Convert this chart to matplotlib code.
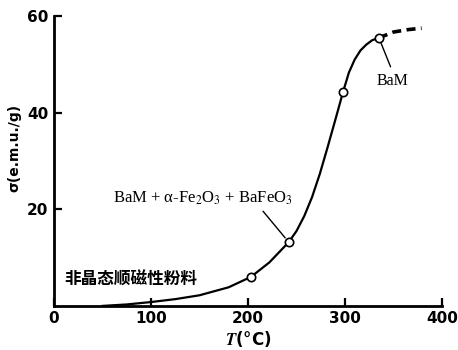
import matplotlib
matplotlib.use("Agg")
import matplotlib.pyplot as plt

plt.rcParams["mathtext.fontset"] = "stix"

# curve
T_curve = [50, 75, 100, 125, 150, 180, 203, 222, 242, 250, 258, 266, 274, 282, 290, 298, 304, 310, 316, 322, 328, 335]
s_curve = [0, 0.3, 0.8, 1.4, 2.2, 3.85, 6.0, 9.0, 13.2, 15.5, 18.6, 22.5, 27.3, 32.8, 38.5, 44.3, 48.3, 51.0, 52.9, 54.1, 55.0, 55.5]
T_dash = [335, 350, 365, 379]
s_dash = [55.5, 56.7, 57.2, 57.5]
T_pts = [203, 242, 298, 335]
s_pts = [6.0, 13.2, 44.3, 55.5]

xticks = [0, 100, 200, 300, 400]
yticks = [20, 40, 60]

fig = plt.figure(figsize=(4.58, 3.5), dpi=100)
ax = fig.add_axes([0.118, 0.126, 0.847, 0.828])

ax.plot(T_curve, s_curve, color="black", lw=1.6)
ax.plot(T_dash, s_dash, color="black", lw=2.6, dashes=(2.5, 1.5))
ax.plot(T_pts, s_pts, "o", ms=6, mfc="white", mec="black", mew=1.2, zorder=3)

ax.set_xlim(0, 400)
ax.set_ylim(0, 60)
for s in ["top", "right"]:
    ax.spines[s].set_visible(False)
for s in ["left", "bottom"]:
    ax.spines[s].set_linewidth(2)
ax.set_xticks(xticks)
ax.set_xticklabels([str(v) for v in xticks], fontsize=11, fontweight="bold")
ax.set_yticks(yticks)
ax.set_yticklabels([str(v) for v in yticks], fontsize=11, fontweight="bold")
ax.tick_params(direction="in", length=6, width=1.6, pad=4)

ax.set_xlabel(r"$\boldsymbol{T}$(°C)", fontsize=12, fontweight="bold", labelpad=2)
ax.set_ylabel("σ(e.m.u./g)", fontsize=10, fontweight="bold")
ax.yaxis.set_label_coords(-0.085, 0.545)

serif = "Liberation Serif"
# BaM label and its leader
ax.text(349.5, 46.6, "BaM", fontsize=11.5, family=serif, ha="center", va="center")
ax.annotate("", xy=(335, 55.5), xytext=(347, 49.5),
            arrowprops=dict(arrowstyle="-", color="black", lw=1, shrinkA=0, shrinkB=4))
# mixed-phase label and its leader
ax.text(153.6, 22.3, "BaM + α-Fe$_2$O$_3$ + BaFeO$_3$", fontsize=12, family=serif,
        ha="center", va="center")
ax.annotate("", xy=(242, 13.2), xytext=(215.5, 19.6),
            arrowprops=dict(arrowstyle="-", color="black", lw=1, shrinkA=0, shrinkB=4))
ax.text(10, 5.3, "非晶态顺磁性粉料", fontsize=12, fontweight="bold",
        family=["Noto Sans CJK SC", "DejaVu Sans"], ha="left", va="center")

fig.savefig("out.png", dpi=100)
